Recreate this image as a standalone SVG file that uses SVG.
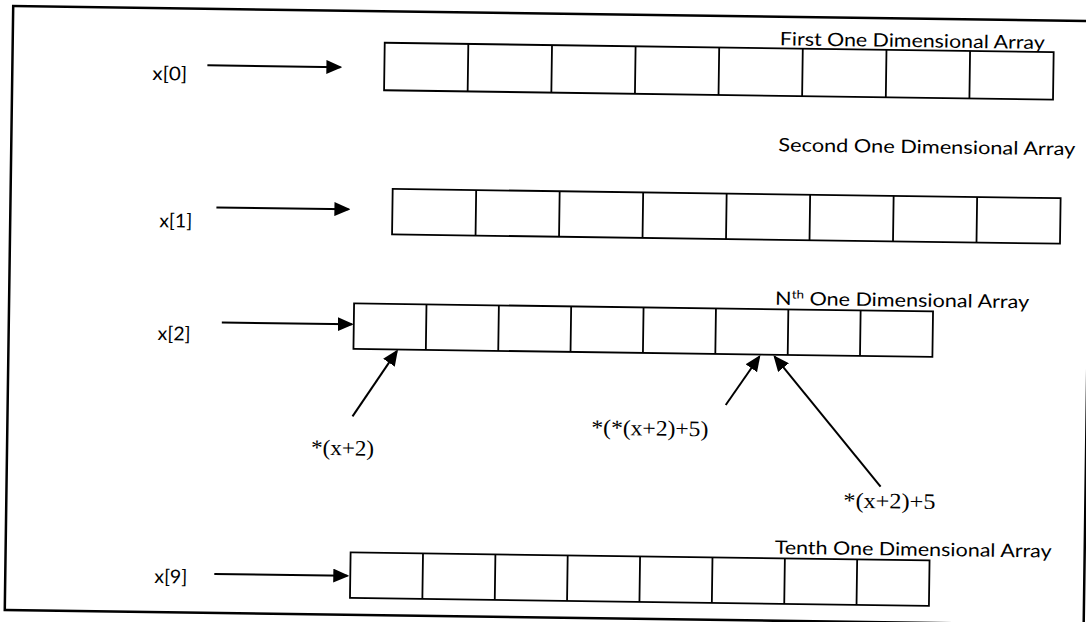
<svg xmlns="http://www.w3.org/2000/svg" width="1086" height="622" viewBox="0 0 1086 622">
<style>
.frame{fill:none;stroke:#000;stroke-width:2.5}
.cell{fill:#fff;stroke:#000;stroke-width:1.8}
.conn{stroke:#000;stroke-width:2;fill:none}
.lbl{font-family:Lato,"Liberation Sans",sans-serif;font-size:19px;fill:#000}
.title{font-family:Lato,"Liberation Sans",sans-serif;font-size:18.5px;fill:#000}
.expr{font-family:"Liberation Serif","Times New Roman",serif;font-size:22px;fill:#000}
</style>
<defs>
<marker id="ah" markerUnits="userSpaceOnUse" markerWidth="16" markerHeight="14" refX="14" refY="7" orient="auto"><path d="M0,0 L16,7 L0,14 z" fill="#000"/></marker>
</defs>
<rect width="1086" height="622" fill="#fff"/>
<g transform="rotate(0.8 543 311)">
<rect class="frame" x="9" y="13.5" width="1079" height="604"/>

<g id="array0">
<rect class="cell" x="381" y="45" width="669" height="47.5"/>
<path class="cell" d="M464.6,45V92.5M548.3,45V92.5M631.9,45V92.5M715.5,45V92.5M799.1,45V92.5M882.8,45V92.5M966.4,45V92.5"/>
<text class="title" x="776" y="42" textLength="265" lengthAdjust="spacingAndGlyphs">First One Dimensional Array</text>
</g>
<g id="array1">
<rect class="cell" x="391" y="191" width="668" height="45.5"/>
<path class="cell" d="M474.5,191V236.5M558,191V236.5M641.5,191V236.5M725,191V236.5M808.5,191V236.5M892,191V236.5M975.5,191V236.5"/>
<text class="title" x="776" y="148" textLength="297" lengthAdjust="spacingAndGlyphs">Second One Dimensional Array</text>
</g>
<g id="array2">
<rect class="cell" x="354" y="306" width="579" height="45.5"/>
<path class="cell" d="M426.4,306V351.5M498.8,306V351.5M571.1,306V351.5M643.5,306V351.5M715.9,306V351.5M788.3,306V351.5M860.6,306V351.5"/>
<text class="title" x="775" y="301.5" textLength="254" lengthAdjust="spacingAndGlyphs">N<tspan font-size="11.5" dy="-6.5">th</tspan><tspan dy="6.5"> One Dimensional Array</tspan></text>
</g>
<g id="array9">
<rect class="cell" x="354" y="555" width="579" height="45.5"/>
<path class="cell" d="M426.4,555V600.5M498.8,555V600.5M571.1,555V600.5M643.5,555V600.5M715.9,555V600.5M788.3,555V600.5M860.6,555V600.5"/>
<text class="title" x="778" y="550.5" textLength="277" lengthAdjust="spacingAndGlyphs">Tenth One Dimensional Array</text>
</g>

<g id="label-x0"><text class="lbl" x="149" y="85.5" textLength="35" lengthAdjust="spacingAndGlyphs">x[0]</text></g>
<g id="label-x1"><text class="lbl" x="158" y="232.5" textLength="33" lengthAdjust="spacingAndGlyphs">x[1]</text></g>
<g id="label-x2"><text class="lbl" x="158" y="345.5" textLength="33" lengthAdjust="spacingAndGlyphs">x[2]</text></g>
<g id="label-x9"><text class="lbl" x="158" y="588.5" textLength="33" lengthAdjust="spacingAndGlyphs">x[9]</text></g>

<g id="expr-a"><text class="expr" x="313" y="458" textLength="63" lengthAdjust="spacingAndGlyphs">*(x+2)</text></g>
<g id="expr-b"><text class="expr" x="593" y="434" textLength="117" lengthAdjust="spacingAndGlyphs">*(*(x+2)+5)</text></g>
<g id="expr-c"><text class="expr" x="846" y="503.5" textLength="92" lengthAdjust="spacingAndGlyphs">*(x+2)+5</text></g>

<g id="connectors">
<line class="conn" x1="204" y1="70" x2="337" y2="70" marker-end="url(#ah)"/>
<line class="conn" x1="215" y1="212" x2="347" y2="212" marker-end="url(#ah)"/>
<line class="conn" x1="222" y1="327" x2="352" y2="327" marker-end="url(#ah)"/>
<line class="conn" x1="218" y1="578.5" x2="351" y2="578.5" marker-end="url(#ah)"/>
<line class="conn" x1="354" y1="419" x2="397.4" y2="353.2" marker-end="url(#ah)"/>
<line class="conn" x1="727" y1="402.4" x2="759.9" y2="353.7" marker-end="url(#ah)"/>
<line class="conn" x1="883" y1="482" x2="775.3" y2="353.5" marker-end="url(#ah)"/>
</g>
</g>
</svg>
